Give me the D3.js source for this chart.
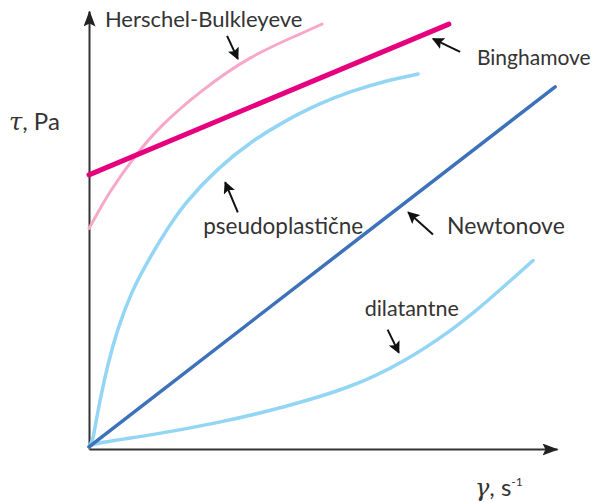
<!DOCTYPE html>
<html>
<head>
<meta charset="utf-8">
<script src="https://cdn.jsdelivr.net/npm/d3@7"></script>
<style>
  body { margin: 0; background: #fff; }
  svg { display: block; }
  text { font-family: Lato, "Open Sans", sans-serif; fill: #333; }
</style>
</head>
<body>
<svg id="chart" width="596" height="502"></svg>
<script>
// Curves (x = shear rate, y = shear stress, arbitrary units 0..100)
const newtonX = [0, 99.6];
const newtonY = [0, 82.6];

const binghamX = [0, 76.9];
const binghamY = [62.4, 97.0];

const herschelX = [0, 4.49, 9.83, 15.17, 23.72, 34.40, 45.09, 49.79];
const herschelY = [50.1, 58.8, 66.8, 73.6, 81.6, 89.7, 94.7, 97.0];

const pseudoX = [0, 0.85, 1.28, 2.35, 4.06, 6.20, 9.19, 12.61, 16.88, 20.51, 27.56, 34.83, 41.88, 48.93, 56.20, 63.25, 70.30];
const pseudoY = [0, 1.56, 4.53, 10.71, 19.18, 27.42, 35.88, 42.75, 50.30, 56.02, 64.03, 70.21, 74.79, 78.68, 81.65, 83.94, 85.54];

const dilatantX = [0, 1.28, 13.46, 27.56, 41.88, 56.20, 66.88, 77.56, 84.62, 94.87];
const dilatantY = [0, 0.87, 2.70, 5.45, 9.11, 13.69, 19.18, 26.73, 32.91, 42.75];

// Curve labels and where their arrows point
const labelNames = ['Herschel-Bulkleyeve', 'Binghamove', 'Newtonove', 'pseudoplastične', 'dilatantne'];
const labelX = [3.4, 82.9, 76.5, 24.4, 58.9];
const labelY = [98.2, 89.2, 50.6, 50.6, 31.8];
const arrowFromX = [29.5, 79.3, 73.5, 31.8, 63.8];
const arrowFromY = [94.3, 90.6, 48.7, 53.8, 26.9];
const arrowToX = [31.8, 73.5, 68.2, 29.1, 66.2];
const arrowToY = [89.0, 93.6, 53.8, 60.7, 21.6];
const labelSize = [22, 21, 23, 22.5, 21.5];

const yLabel = 'τ, Pa';
const xLabel = 'γ, s';

const svg = d3.select('#chart');

const x = d3.scaleLinear().domain([0, 100]).range([89, 557]);
const y = d3.scaleLinear().domain([-0.5, 100]).range([449, 11]);

// arrow heads
const defs = svg.append('defs');
defs.append('marker')
  .attr('id', 'axisHead')
  .attr('viewBox', '0 0 16 12')
  .attr('refX', 15).attr('refY', 6)
  .attr('markerWidth', 16).attr('markerHeight', 12)
  .attr('markerUnits', 'userSpaceOnUse')
  .attr('orient', 'auto')
  .append('path').attr('d', 'M0,0 L16,6 L0,12 L3,6 Z').attr('fill', '#222');
defs.append('marker')
  .attr('id', 'noteHead')
  .attr('viewBox', '0 0 10 10')
  .attr('refX', 9).attr('refY', 5)
  .attr('markerWidth', 12).attr('markerHeight', 12)
  .attr('markerUnits', 'userSpaceOnUse')
  .attr('orient', 'auto')
  .append('path').attr('d', 'M0,0 L10,5 L0,10 L2,5 Z').attr('fill', '#111');

// axes, no ticks
const xAxis = svg.append('g')
  .attr('transform', `translate(0, ${y(-0.5)})`)
  .call(d3.axisBottom(x).tickValues([]).tickSizeOuter(0));
const yAxis = svg.append('g')
  .attr('transform', `translate(${x(0)}, 0)`)
  .call(d3.axisLeft(y).tickValues([]).tickSizeOuter(0));
[xAxis, yAxis].forEach(a => a.select('.domain')
  .attr('stroke', '#333')
  .attr('stroke-width', 2)
  .attr('marker-end', 'url(#axisHead)'));

// curves
const zip = (xs, ys) => xs.map((v, i) => [v, ys[i]]);
const line = d3.line()
  .x(d => x(d[0]))
  .y(d => y(d[1]))
  .curve(d3.curveBasis);

const curves = [
  { pts: zip(herschelX, herschelY), color: '#f7a8c9', width: 3 },
  { pts: zip(pseudoX, pseudoY), color: '#93d5f5', width: 3.5 },
  { pts: zip(dilatantX, dilatantY), color: '#93d5f5', width: 3.5 },
  { pts: zip(newtonX, newtonY), color: '#3d72bb', width: 3.5 },
  { pts: zip(binghamX, binghamY), color: '#e6007e', width: 5 }
];

svg.selectAll('path.curve').data(curves)
  .enter().append('path')
  .attr('class', 'curve')
  .attr('d', d => line(d.pts))
  .attr('fill', 'none')
  .attr('stroke', d => d.color)
  .attr('stroke-width', d => d.width)
  .attr('stroke-linecap', 'round');

// annotations
svg.selectAll('line.note').data(labelNames)
  .enter().append('line')
  .attr('class', 'note')
  .attr('x1', (d, i) => x(arrowFromX[i]))
  .attr('y1', (d, i) => y(arrowFromY[i]))
  .attr('x2', (d, i) => x(arrowToX[i]))
  .attr('y2', (d, i) => y(arrowToY[i]))
  .attr('stroke', '#111')
  .attr('stroke-width', 2)
  .attr('marker-end', 'url(#noteHead)');

svg.selectAll('text.label').data(labelNames)
  .enter().append('text')
  .attr('class', 'label')
  .attr('x', (d, i) => x(labelX[i]))
  .attr('y', (d, i) => y(labelY[i]))
  .attr('dy', '0.35em')
  .attr('font-size', (d, i) => labelSize[i])
  .text(d => d);

// axis titles
const yt = svg.append('text')
  .attr('x', 9).attr('y', 122)
  .attr('dy', '0.35em')
  .attr('font-size', 24);
yt.append('tspan').attr('font-style', 'italic').attr('font-family', '"DejaVu Serif", serif').text(yLabel.slice(0, 1));
yt.append('tspan').text(yLabel.slice(1));

const xt = svg.append('text')
  .attr('x', 475).attr('y', 488)
  .attr('dy', '0.35em')
  .attr('font-size', 24);
xt.append('tspan').attr('font-style', 'italic').attr('font-family', '"DejaVu Serif", serif').text(xLabel.slice(0, 1));
xt.append('tspan').text(xLabel.slice(1));
xt.append('tspan').attr('font-size', 12).attr('dy', '-0.9em').text('-1');
</script>
</body>
</html>
